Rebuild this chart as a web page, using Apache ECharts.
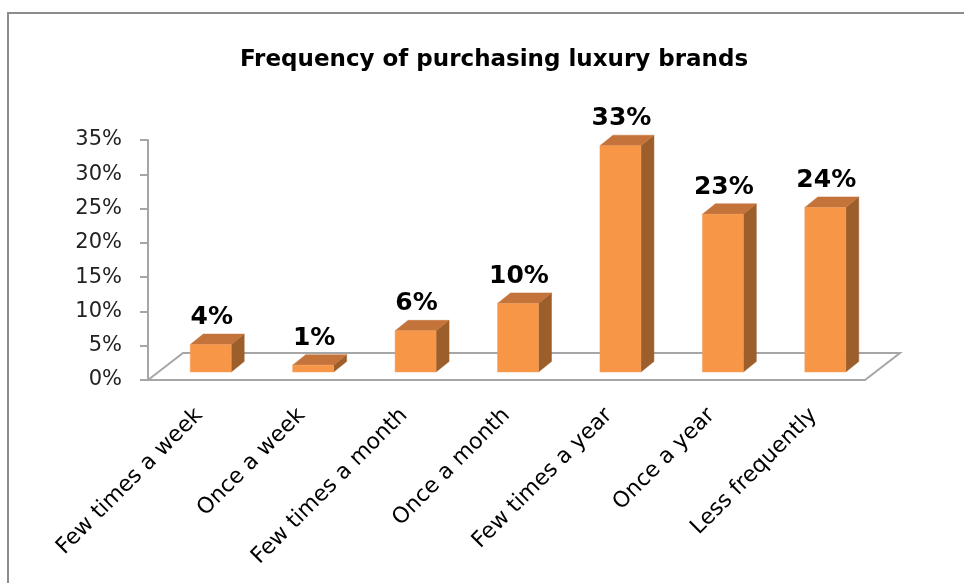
<!DOCTYPE html>
<html>
<head>
<meta charset="utf-8">
<script src="https://cdn.jsdelivr.net/npm/echarts@6/dist/echarts.min.js"></script>
<style>html,body{margin:0;padding:0;background:#fff;}#c{width:964px;height:583px;}</style>
</head>
<body>
<div id="c"></div>
<script>
const TITLE = 'Frequency of purchasing luxury brands';
const categories = ['Few times a week','Once a week','Few times a month','Once a month','Few times a year','Once a year','Less frequently'];
const values = [4, 1, 6, 10, 33, 23, 24];
const yTicks = [0, 5, 10, 15, 20, 25, 30, 35];

const FONT = '"DejaVu Sans", sans-serif';
const FRONT = '#F79646', TOP = '#C4743A', SIDE = '#9C5E2B';
const AXIS = '#A6A6A6';

const chart = echarts.init(document.getElementById('c'), null, {renderer: 'canvas'});

function renderBar(params, api) {
  const c0 = api.coord([api.value(0), 0]);
  const c1 = api.coord([api.value(0), api.value(1)]);
  const band = api.size([1, 0])[0];
  const w = band * 0.40;
  const ox = 11.5, oy = -8;   // depth offset of the front face
  const dx = 13, dy = -10.5;  // bar depth
  const cx = c0[0] + ox;
  const xl = cx - w / 2, xr = cx + w / 2;
  const yb = c0[1] + oy, yt = c1[1] + oy;
  return {
    type: 'group',
    children: [
      {type: 'polygon', shape: {points: [[xr, yb], [xr + dx, yb + dy], [xr + dx, yt + dy], [xr, yt]]},
       style: {fill: SIDE, stroke: SIDE, lineWidth: 0.5}},
      {type: 'polygon', shape: {points: [[xl, yt], [xr, yt], [xr + dx, yt + dy], [xl + dx, yt + dy]]},
       style: {fill: TOP, stroke: TOP, lineWidth: 0.5}},
      {type: 'rect', shape: {x: xl, y: yt, width: w, height: yb - yt},
       style: {fill: FRONT, stroke: '#F4A060', lineWidth: 0.5}},
      {type: 'text', x: cx + 1, y: yt + dy - 4,
       style: {text: api.value(1) + '%', fill: '#000', font: 'bold 25px ' + FONT, align: 'center', verticalAlign: 'bottom'}}
    ]
  };
}

function renderFloor(params, api) {
  const first = api.coord([0, 0]);
  const last = api.coord([categories.length - 1, 0]);
  const band = api.size([1, 0])[0];
  const l = first[0] - band / 2, r = last[0] + band / 2, y = first[1];
  const fx = 35, fy = -27;
  return {
    type: 'polyline',
    shape: {points: [[l, y], [l + fx, y + fy], [r + fx, y + fy], [r, y]]},
    style: {stroke: AXIS, lineWidth: 2, fill: null}
  };
}

chart.setOption({
  animation: false,
  backgroundColor: '#fff',
  title: {
    text: TITLE, left: 489, textAlign: 'center', top: 44,
    textStyle: {fontFamily: FONT, fontWeight: 'bold', fontSize: 23, color: '#000'}
  },
  graphic: [{type: 'rect', shape: {x: 8, y: 13, width: 1000, height: 640}, style: {fill: null, stroke: '#8C8C8C', lineWidth: 2}, z: -1}],
  grid: {left: 148, right: 99, top: 140, bottom: 203},
  xAxis: {
    type: 'category', data: categories, boundaryGap: true,
    axisLine: {lineStyle: {color: AXIS, width: 2}},
    axisTick: {length: 8, lineStyle: {color: AXIS, width: 2}},
    axisLabel: {rotate: 45, margin: 32, interval: 0, fontFamily: FONT, fontSize: 22, color: '#000'}
  },
  yAxis: {
    type: 'value', min: 0, max: 35, interval: 5,
    splitLine: {show: false},
    axisLine: {show: true, lineStyle: {color: AXIS, width: 2}},
    axisTick: {show: true, length: 8, lineStyle: {color: AXIS, width: 2}},
    axisLabel: {margin: 26, fontFamily: FONT, fontSize: 21, color: '#222',
      formatter: v => yTicks.indexOf(v) >= 0 ? v + '%' : ''}
  },
  series: [
    {type: 'custom', renderItem: renderFloor, data: [[0, 0]], z: 1, silent: true},
    {type: 'custom', renderItem: renderBar, data: categories.map((c, i) => [i, values[i]]), z: 3}
  ]
});
</script>
</body>
</html>
